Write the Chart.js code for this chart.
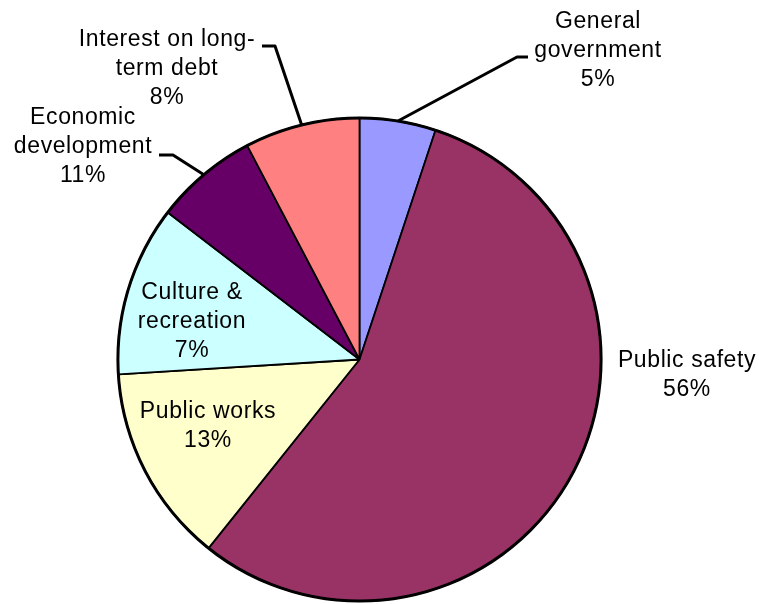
<!DOCTYPE html>
<html>
<head>
<meta charset="utf-8">
<script src="https://cdn.jsdelivr.net/npm/chart.js@4/dist/chart.umd.min.js"></script>
<style>
  html, body { margin: 0; padding: 0; background: #fff; }
  #wrap { width: 759px; height: 604px; position: relative; }
</style>
</head>
<body>
<div id="wrap"><canvas id="pieChart"></canvas></div>
<script>
// slice names (as printed, split into lines) and values
const categories = [
  ['General', 'government'],
  ['Public safety'],
  ['Public works'],
  ['Culture &', 'recreation'],
  ['Economic', 'development'],
  ['Interest on long-', 'term debt']
];
const values = [5.1, 55.7, 13.3, 11.4, 6.9, 7.7];
const percentLabels = ['5%', '56%', '13%', '7%', '11%', '8%'];
const colors = ['#9999FF', '#993366', '#FFFFCC', '#CCFFFF', '#660066', '#FF8080'];

// label placement (layout only): text center, optional leader elbow/end
const labelLayout = [
  { x: 598, y: 22, leader: { elbow: [517, 57], end: [528, 57] } },
  { x: 687, y: 361 },
  { x: 208, y: 412 },
  { x: 192, y: 293 },
  { x: 83, y: 118, leader: { elbow: [173, 155], end: [159, 155] } },
  { x: 167, y: 40, leader: { elbow: [275, 46], end: [262, 46] } }
];
const lineH = 29;

const labelsPlugin = {
  id: 'pieLabels',
  afterDatasetsDraw(chart) {
    const ctx = chart.ctx;
    const arcs = chart.getDatasetMeta(0).data;
    ctx.save();
    // thick outline round the whole pie
    const a0 = arcs[0];
    ctx.beginPath();
    ctx.arc(a0.x, a0.y, a0.outerRadius, 0, Math.PI * 2);
    ctx.lineWidth = 3;
    ctx.strokeStyle = '#000';
    ctx.stroke();

    // leader lines
    arcs.forEach((arc, i) => {
      const lead = labelLayout[i].leader;
      if (!lead) return;
      const mid = (arc.startAngle + arc.endAngle) / 2;
      const sx = arc.x + Math.cos(mid) * arc.outerRadius;
      const sy = arc.y + Math.sin(mid) * arc.outerRadius;
      ctx.beginPath();
      ctx.moveTo(sx, sy);
      ctx.lineTo(lead.elbow[0], lead.elbow[1]);
      ctx.lineTo(lead.end[0], lead.end[1]);
      ctx.lineWidth = 3;
      ctx.lineJoin = 'round';
      ctx.stroke();
    });

    // text
    ctx.fillStyle = '#000';
    ctx.font = '23px "Liberation Sans", Arial, sans-serif';
    if ('letterSpacing' in ctx) ctx.letterSpacing = '0.6px';
    ctx.textAlign = 'center';
    ctx.textBaseline = 'middle';
    categories.forEach((lines, i) => {
      const pos = labelLayout[i];
      const all = lines.concat([percentLabels[i]]);
      all.forEach((t, k) => ctx.fillText(t, pos.x, pos.y + k * lineH));
    });
    ctx.restore();
  }
};

new Chart(document.getElementById('pieChart'), {
  type: 'pie',
  data: {
    labels: categories.map(c => c.join(' ')),
    datasets: [{
      data: values,
      backgroundColor: colors,
      borderColor: '#000',
      borderWidth: 1.8
    }]
  },
  options: {
    responsive: true,
    maintainAspectRatio: false,
    animation: false,
    layout: { padding: { top: 117, bottom: 2, left: 117, right: 157 } },
    plugins: {
      legend: { display: false },
      tooltip: { enabled: false }
    }
  },
  plugins: [labelsPlugin]
});
</script>
</body>
</html>
